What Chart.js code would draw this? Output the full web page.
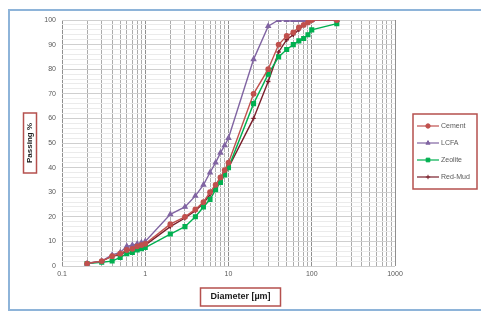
<!DOCTYPE html>
<html>
<head>
<meta charset="utf-8">
<script src="https://cdn.jsdelivr.net/npm/chart.js@4/dist/chart.umd.min.js"></script>
<style>
  html, body { margin: 0; padding: 0; background: #fff; }
  #wrap { width: 481px; height: 314px; position: relative; }
</style>
</head>
<body>
<div id="wrap"><canvas id="chart" width="481" height="314"></canvas></div>
<script>
// particle size classes (µm)
const diameters = [0.2, 0.3, 0.4, 0.5, 0.6, 0.7, 0.8, 0.9, 1, 2, 3, 4, 5, 6, 7, 8, 9, 10,
  20, 30, 40, 50, 60, 70, 80, 90, 100, 200];

const cement = [1, 2, 4, 5, 6.5, 7, 8, 8.5, 9, 17, 20, 23, 26, 30, 33, 36, 39, 42,
  70, 80, 90, 93.5, 95, 97, 98, 99, 100, 100];
const lcfa = [1, 2, 4.5, 5.5, 8, 8.5, 9, 9.5, 10, 21, 24, 28.5, 33, 38, 42, 46, 49, 52,
  84, 97.5, 100, 100, 100, 100, 100, 100, 100, 100];
const zeolite = [1, 1.5, 2, 3.5, 5, 5.5, 6.5, 7, 7.5, 13, 16, 20, 24, 27, 31, 34, 37, 40,
  66, 78, 85, 88, 90, 91.5, 92.5, 94, 96, 98.5];
const redMud = [1, 2, 4, 4.5, 6, 7, 7.5, 8, 8.5, 16, 19.5, 22.5, 25.5, 29, 32, 35, 38, 40,
  60, 75, 87, 92, 94, 96, 98, 99, 100, 100];

const seriesNames = ['Cement', 'LCFA', 'Zeolite', 'Red-Mud'];
const xTickLabels = ['0.1', '1', '10', '100', '1000'];
const yTickLabels = ['0', '10', '20', '30', '40', '50', '60', '70', '80', '90', '100'];

function pts(values) {
  return diameters.map((d, i) => ({ x: d, y: values[i] }));
}

const tickFont = { family: 'Liberation Sans', size: 7 };

// frame, axis title boxes and an Excel-like legend
const decor = {
  id: 'decor',
  beforeDraw(chart) {
    const ctx = chart.ctx;
    ctx.save();
    ctx.fillStyle = '#ffffff';
    ctx.fillRect(0, 0, chart.width, chart.height);
    ctx.strokeStyle = '#8eb4d9';
    ctx.lineWidth = 2;
    ctx.strokeRect(9, 10, 478, 300);
    ctx.restore();
  },
  afterDraw(chart) {
    const ctx = chart.ctx;
    const a = chart.chartArea;
    ctx.save();
    // y title
    const yx = a.left - 32, yc = (a.top + a.bottom) / 2;
    ctx.strokeStyle = '#b5504e';
    ctx.lineWidth = 1.5;
    ctx.strokeRect(yx - 6.5, yc - 30, 13, 60);
    ctx.translate(yx, yc);
    ctx.rotate(-Math.PI / 2);
    ctx.fillStyle = '#1a1a1a';
    ctx.font = 'bold 8px "Liberation Sans"';
    ctx.textAlign = 'center';
    ctx.textBaseline = 'middle';
    ctx.fillText('Passing %', 0, 0);
    ctx.restore();

    // x title
    ctx.save();
    const xc = (a.left + a.right) / 2 + 12, xy = a.bottom + 31;
    ctx.strokeStyle = '#b5504e';
    ctx.lineWidth = 1.5;
    ctx.strokeRect(xc - 40, xy - 9, 80, 18);
    ctx.fillStyle = '#1a1a1a';
    ctx.font = 'bold 9px "Liberation Sans"';
    ctx.textAlign = 'center';
    ctx.textBaseline = 'middle';
    ctx.fillText('Diameter [\u00b5m]', xc, xy);
    ctx.restore();

    // legend
    ctx.save();
    const lx = a.right + 18, ly = 114;
    ctx.strokeStyle = '#b5504e';
    ctx.lineWidth = 1.5;
    ctx.strokeRect(lx, ly, 64, 75);
    chart.data.datasets.forEach((ds, i) => {
      const y = ly + 12 + i * 17;
      ctx.strokeStyle = ds.borderColor;
      ctx.lineWidth = 1.2;
      ctx.beginPath();
      ctx.moveTo(lx + 4, y);
      ctx.lineTo(lx + 26, y);
      ctx.stroke();
      ctx.fillStyle = ds.pointBackgroundColor;
      ctx.strokeStyle = ds.pointBorderColor;
      ctx.lineWidth = 1;
      Chart.helpers.drawPoint(ctx, {
        pointStyle: ds.pointStyle, rotation: 0, radius: ds.pointRadius, borderWidth: 1
      }, lx + 15, y);
      ctx.fillStyle = '#595959';
      ctx.font = '7px "Liberation Sans"';
      ctx.textBaseline = 'middle';
      ctx.fillText(ds.label, lx + 28, y);
    });
    ctx.restore();
  }
};

function ds(label, values, color, style, radius) {
  return {
    label: label,
    data: pts(values),
    borderColor: color,
    backgroundColor: color,
    pointBackgroundColor: color,
    pointBorderColor: color,
    pointStyle: style,
    pointRadius: radius,
    borderWidth: 1.4,
    tension: 0
  };
}

new Chart(document.getElementById('chart'), {
  type: 'line',
  data: {
    datasets: [
      ds(seriesNames[0], cement, '#c0504d', 'circle', 2.2),
      ds(seriesNames[1], lcfa, '#8064a2', 'triangle', 2.4),
      ds(seriesNames[2], zeolite, '#00b050', 'rect', 2.6),
      ds(seriesNames[3], redMud, '#7a1f2b', 'cross', 2.2)
    ]
  },
  options: {
    responsive: false,
    animation: false,
    layout: { padding: { left: 34, right: 86, top: 20, bottom: 28 } },
    plugins: { legend: { display: false }, tooltip: { enabled: false } },
    scales: {
      x: {
        type: 'logarithmic',
        min: 0.1,
        max: 1000,
        afterBuildTicks(scale) {
          const t = [];
          for (let e = -1; e <= 2; e++) {
            for (let m = 1; m <= 9; m++) {
              t.push({ value: Number((m * Math.pow(10, e)).toPrecision(3)) });
            }
          }
          t.push({ value: 1000 });
          scale.ticks = t;
        },
        afterFit(scale) { scale.height = 20; },
        ticks: {
          autoSkip: false,
          maxRotation: 0,
          font: tickFont,
          color: '#595959',
          padding: 4,
          callback(v) {
            const l = Math.log10(v);
            return Math.abs(l - Math.round(l)) < 1e-9 ? xTickLabels[Math.round(l) + 1] : '';
          }
        },
        grid: {
          color: ctx => {
            const l = Math.log10(ctx.tick.value);
            return Math.abs(l - Math.round(l)) < 1e-9 ? '#8f8f8f' : '#acacac';
          },
          lineWidth: 1,
          drawTicks: false
        },
        border: { display: false }
      },
      y: {
        min: 0,
        max: 100,
        afterFit(scale) { scale.width = 28; },
        ticks: {
          stepSize: 2,
          autoSkip: false,
          font: tickFont,
          color: '#595959',
          padding: 6,
          callback(v) { return v % 10 === 0 ? yTickLabels[v / 10] : ''; }
        },
        grid: {
          color: ctx => (ctx.tick.value % 10 === 0 ? '#cfcfcf' : '#ebebeb'),
          lineWidth: 1,
          drawTicks: false
        },
        border: { display: false }
      }
    }
  },
  plugins: [decor]
});
</script>
</body>
</html>
